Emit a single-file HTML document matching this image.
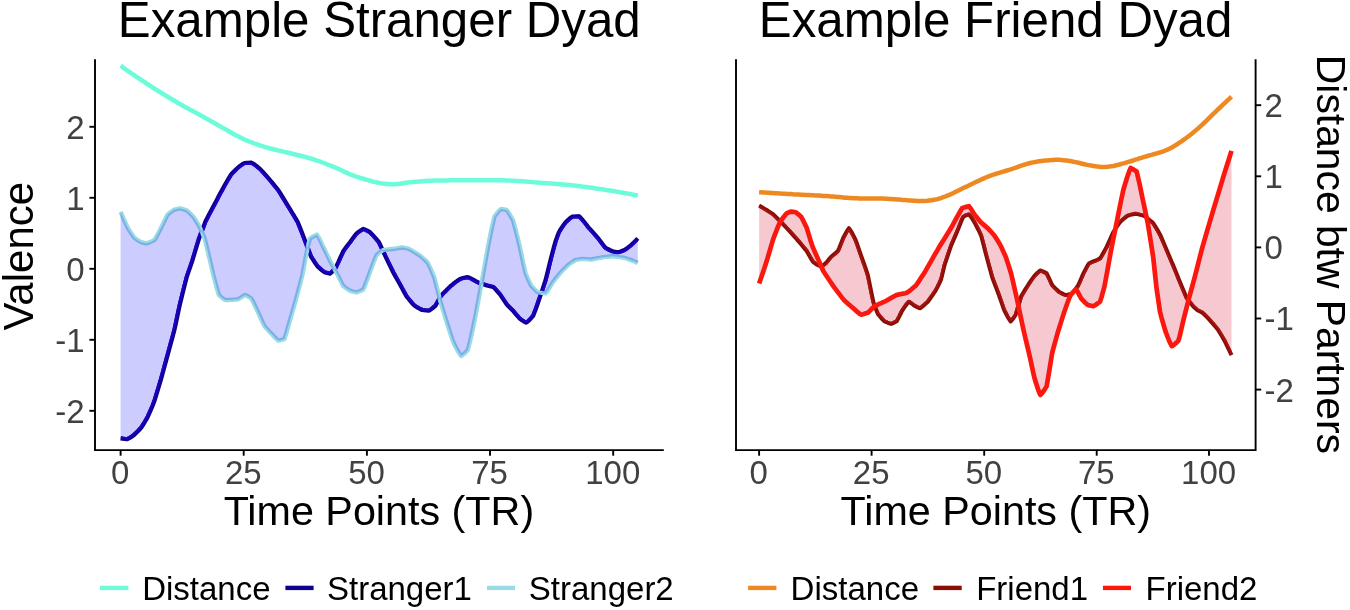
<!DOCTYPE html>
<html lang="en"><head><meta charset="utf-8"><title>Example Stranger Dyad / Example Friend Dyad</title>
<style>html,body{margin:0;padding:0;background:#fff}body{width:1350px;height:610px;overflow:hidden}svg{display:block;will-change:transform;transform:translateZ(0)}text{font-family:"Liberation Sans", Arial, Helvetica, sans-serif}.title{font-size:49.25px;fill:#000}.axt{font-size:41.3px;fill:#000}.tick{font-size:33px;fill:#414141}.leg{font-size:33px;fill:#000}</style></head><body>
<svg width="1350" height="610" viewBox="0 0 1350 610">
<rect width="1350" height="610" fill="#fff"/>
<g id="left-panel">
<polyline points="120.6,65.7 122.6,67.1 124.6,68.6 126.6,70.0 128.6,71.4 130.6,72.8 132.6,74.2 134.6,75.5 136.6,76.9 138.6,78.2 140.6,79.6 142.6,80.9 144.6,82.2 146.6,83.5 148.6,84.8 150.6,86.1 152.6,87.4 154.5,88.7 156.5,89.9 158.5,91.2 160.5,92.4 162.5,93.6 164.5,94.9 166.5,96.1 168.5,97.3 170.5,98.5 172.5,99.7 174.5,100.8 176.5,102.0 178.5,103.2 180.5,104.3 182.5,105.5 184.5,106.6 186.5,107.7 188.5,108.8 190.5,109.9 192.5,111.0 194.5,112.1 196.5,113.1 198.5,114.2 200.5,115.3 202.5,116.4 204.5,117.5 206.5,118.6 208.5,119.7 210.5,120.9 212.5,122.0 214.5,123.1 216.5,124.2 218.4,125.4 220.4,126.5 222.4,127.6 224.4,128.7 226.4,129.8 228.4,131.0 230.4,132.2 232.4,133.3 234.4,134.5 236.4,135.6 238.4,136.6 240.4,137.6 242.4,138.6 244.4,139.5 246.4,140.3 248.4,141.2 250.4,142.0 252.4,142.7 254.4,143.5 256.4,144.2 258.4,144.9 260.4,145.6 262.4,146.2 264.4,146.8 266.4,147.4 268.4,148.0 270.4,148.5 272.4,149.0 274.4,149.5 276.4,150.0 278.4,150.5 280.4,150.9 282.3,151.4 284.3,151.9 286.3,152.3 288.3,152.8 290.3,153.3 292.3,153.8 294.3,154.3 296.3,154.8 298.3,155.2 300.3,155.7 302.3,156.2 304.3,156.7 306.3,157.3 308.3,157.8 310.3,158.4 312.3,159.0 314.3,159.6 316.3,160.3 318.3,161.0 320.3,161.7 322.3,162.5 324.3,163.2 326.3,164.0 328.3,164.8 330.3,165.5 332.3,166.3 334.3,167.1 336.3,168.0 338.3,168.9 340.3,169.8 342.3,170.8 344.3,171.7 346.3,172.6 348.2,173.5 350.2,174.4 352.2,175.2 354.2,175.9 356.2,176.6 358.2,177.2 360.2,177.8 362.2,178.4 364.2,179.0 366.2,179.6 368.2,180.2 370.2,180.8 372.2,181.3 374.2,181.9 376.2,182.3 378.2,182.7 380.2,183.1 382.2,183.5 384.2,183.7 386.2,183.9 388.2,184.1 390.2,184.3 392.2,184.3 394.2,184.2 396.2,184.1 398.2,183.9 400.2,183.7 402.2,183.4 404.2,183.1 406.2,182.8 408.2,182.5 410.2,182.3 412.1,182.1 414.1,181.9 416.1,181.7 418.1,181.6 420.1,181.4 422.1,181.2 424.1,181.1 426.1,180.9 428.1,180.8 430.1,180.8 432.1,180.7 434.1,180.6 436.1,180.6 438.1,180.5 440.1,180.5 442.1,180.5 444.1,180.4 446.1,180.4 448.1,180.4 450.1,180.3 452.1,180.3 454.1,180.3 456.1,180.3 458.1,180.3 460.1,180.3 462.1,180.2 464.1,180.2 466.1,180.2 468.1,180.2 470.1,180.2 472.1,180.2 474.1,180.2 476.1,180.2 478.0,180.2 480.0,180.2 482.0,180.2 484.0,180.2 486.0,180.2 488.0,180.2 490.0,180.2 492.0,180.2 494.0,180.2 496.0,180.2 498.0,180.2 500.0,180.2 502.0,180.3 504.0,180.3 506.0,180.4 508.0,180.5 510.0,180.6 512.0,180.7 514.0,180.8 516.0,181.0 518.0,181.1 520.0,181.2 522.0,181.3 524.0,181.5 526.0,181.6 528.0,181.8 530.0,182.0 532.0,182.1 534.0,182.3 536.0,182.4 538.0,182.6 540.0,182.7 541.9,182.9 543.9,183.0 545.9,183.2 547.9,183.3 549.9,183.4 551.9,183.6 553.9,183.7 555.9,183.9 557.9,184.0 559.9,184.2 561.9,184.4 563.9,184.5 565.9,184.7 567.9,184.9 569.9,185.1 571.9,185.3 573.9,185.5 575.9,185.7 577.9,186.0 579.9,186.2 581.9,186.5 583.9,186.7 585.9,187.0 587.9,187.3 589.9,187.5 591.9,187.8 593.9,188.1 595.9,188.4 597.9,188.7 599.9,189.0 601.9,189.2 603.9,189.5 605.8,189.9 607.8,190.2 609.8,190.5 611.8,190.8 613.8,191.1 615.8,191.5 617.8,191.8 619.8,192.2 621.8,192.5 623.8,192.9 625.8,193.3 627.8,193.6 629.8,194.0 631.8,194.4 633.8,194.8 635.8,195.2 637.8,195.6" fill="none" stroke="#6CFCD9" stroke-width="4.5" stroke-linejoin="round" stroke-linecap="butt"/>
<clipPath id="ribL"><polygon points="120.6,438.4 122.6,438.7 124.6,438.9 127.3,439.1 128.6,438.5 130.6,437.4 133.3,435.6 134.6,434.4 136.6,432.5 138.6,430.5 141.1,427.8 142.6,425.5 144.6,422.3 146.6,418.9 147.8,416.7 150.6,410.4 152.6,405.7 154.4,401.1 156.5,394.2 158.5,387.6 161.1,378.9 162.5,373.7 164.5,366.4 166.5,359.1 167.8,354.4 170.5,344.4 172.5,337.1 174.4,330.0 176.5,320.2 178.5,310.8 180.0,303.9 182.5,293.7 184.5,285.7 186.7,277.2 188.5,271.8 190.5,266.1 192.2,261.1 194.5,253.5 196.5,246.8 198.9,238.9 200.5,234.6 202.5,229.2 204.5,224.0 205.6,221.1 206.5,219.4 208.5,215.5 210.5,211.8 212.5,208.0 214.4,204.4 216.5,200.6 218.4,196.8 220.4,193.1 222.4,189.4 223.3,187.8 224.4,185.8 226.4,182.3 228.4,178.8 231.1,174.4 232.4,173.0 234.4,171.0 236.4,169.0 238.9,166.7 240.4,165.6 242.4,164.2 244.6,163.0 246.4,162.9 248.4,162.8 250.4,162.7 251.6,162.7 254.4,164.4 256.4,165.9 258.4,167.6 260.0,168.9 262.4,171.4 264.4,173.6 266.4,175.9 268.4,178.1 270.0,180.0 272.4,182.9 274.4,185.3 276.4,187.8 278.9,191.1 280.4,193.4 282.3,196.6 284.3,199.9 286.3,203.2 287.8,205.6 290.3,209.7 292.3,213.0 294.3,216.2 296.3,219.6 297.8,222.2 300.3,228.4 302.3,233.5 304.4,238.9 306.3,244.1 308.3,249.5 311.1,256.7 312.3,258.6 314.3,261.7 316.3,264.6 317.8,266.7 320.3,268.9 322.3,270.6 324.4,272.2 326.3,272.7 328.3,273.3 330.0,273.6 332.3,271.6 334.3,269.4 335.6,267.8 338.3,262.2 340.3,257.7 342.3,253.3 343.3,251.1 344.3,249.8 346.3,247.1 348.2,244.5 350.0,242.2 352.2,239.1 354.2,236.4 356.7,233.3 358.2,232.1 360.2,230.7 362.2,229.4 363.3,228.9 364.2,229.2 366.2,230.1 368.2,231.2 370.0,232.2 372.2,234.4 374.2,236.6 376.2,238.9 378.9,242.2 380.2,244.8 382.2,249.2 384.2,253.6 385.6,256.7 388.2,262.1 390.2,266.2 392.2,270.2 393.3,272.5 394.2,274.1 396.2,277.7 398.2,281.2 400.0,284.5 402.2,288.5 404.2,292.2 406.7,296.7 408.2,298.5 410.2,300.9 412.1,303.2 414.4,305.6 416.1,306.7 418.1,307.9 420.1,309.0 422.2,310.0 424.1,310.2 426.1,310.5 428.9,310.7 430.1,310.0 432.1,308.6 434.1,306.9 435.6,305.6 438.1,301.1 440.1,297.3 441.1,295.6 442.1,294.5 444.1,292.4 446.1,290.4 448.1,288.5 450.1,286.6 451.1,285.6 452.1,284.8 454.1,283.2 456.1,281.6 458.1,280.2 460.0,278.9 462.1,278.3 464.1,277.8 466.1,277.4 467.8,277.1 470.1,278.0 472.1,279.1 474.1,280.2 476.1,281.3 477.8,282.2 480.0,283.1 482.0,283.8 484.0,284.5 485.6,285.1 488.0,285.7 490.0,286.2 492.0,286.7 493.3,287.1 496.0,289.8 498.0,292.1 500.0,294.4 502.0,297.4 504.0,300.4 506.7,304.4 508.0,305.8 510.0,307.8 512.0,309.8 513.3,311.1 516.0,314.3 518.0,316.7 520.0,318.9 522.0,320.3 524.0,321.6 526.2,322.7 528.0,321.3 530.0,319.4 532.0,317.2 533.3,315.6 536.0,308.5 538.0,302.7 538.9,300.0 540.0,296.9 541.9,291.1 543.9,285.1 545.6,280.0 547.9,270.7 549.9,262.5 551.1,257.8 551.9,254.7 553.9,247.1 555.6,241.1 557.9,234.7 558.9,232.2 559.9,230.5 561.9,227.4 563.9,224.5 565.6,222.2 567.9,220.1 569.9,218.3 572.2,216.7 573.9,216.5 575.9,216.4 577.9,216.3 578.9,216.2 579.9,217.0 581.9,219.1 583.9,221.5 585.9,224.0 587.9,226.6 588.9,227.8 589.9,228.9 591.9,231.1 593.9,233.4 595.9,235.6 597.8,237.8 599.9,240.5 601.9,243.2 603.9,245.8 605.6,247.8 607.8,249.0 609.8,250.0 612.2,251.1 613.8,251.5 615.8,251.9 617.8,252.2 619.8,251.7 621.8,251.0 624.4,250.0 625.8,249.1 627.8,247.6 629.8,246.1 631.1,245.1 633.8,242.5 635.8,240.5 637.8,238.4 637.8,262.9 635.8,262.1 633.8,261.2 631.8,260.4 629.8,259.7 627.8,259.0 625.8,258.3 624.4,257.8 621.8,257.4 619.8,257.1 617.8,256.7 615.8,256.5 613.3,256.2 611.8,256.3 609.8,256.5 607.8,256.7 605.8,256.9 603.9,257.1 602.2,257.3 599.9,257.8 597.9,258.2 595.9,258.6 593.9,259.0 591.1,259.5 589.9,259.4 587.9,259.3 585.9,259.1 583.9,259.0 582.2,258.9 579.9,259.2 577.9,259.6 575.6,260.0 573.9,261.0 571.9,262.3 569.9,263.7 568.9,264.4 567.9,265.3 565.9,267.3 563.9,269.3 561.9,271.3 560.0,273.3 557.9,275.9 555.9,278.4 553.9,281.0 552.2,283.3 549.9,287.0 547.9,290.3 545.6,293.3 543.9,293.1 541.9,292.9 540.0,292.6 537.8,292.2 536.0,290.7 534.0,288.7 532.0,286.6 531.1,285.6 530.0,283.3 528.0,279.0 525.6,273.3 524.0,266.4 522.0,257.1 520.0,247.7 518.9,242.8 518.0,239.1 516.0,231.1 513.3,221.1 512.0,218.6 510.0,215.0 508.0,211.7 506.7,210.0 504.0,209.4 502.0,209.0 501.1,208.9 500.0,209.8 498.0,211.9 496.0,214.5 494.4,216.7 492.0,226.9 490.0,236.7 488.9,242.2 488.0,246.9 486.0,258.0 483.3,273.3 482.0,280.3 480.0,291.5 478.9,297.8 478.0,302.3 476.1,312.7 473.3,326.7 472.1,332.3 470.1,341.3 467.8,350.0 466.1,351.9 464.1,353.8 462.1,355.4 461.1,356.0 460.1,354.7 458.1,351.5 456.1,347.7 453.3,342.2 452.1,338.8 450.1,332.7 448.1,326.5 446.7,322.2 444.1,313.7 442.1,307.1 440.0,300.0 438.1,292.4 436.1,284.3 434.4,277.8 432.1,272.2 430.1,267.6 427.8,262.7 426.1,261.0 424.1,259.2 422.1,257.4 420.0,255.6 418.1,254.4 416.1,253.1 414.1,251.9 412.1,250.7 410.2,249.5 408.9,248.9 406.2,248.2 404.2,247.8 402.2,247.5 400.2,247.8 398.2,248.1 396.2,248.4 394.2,248.8 393.3,248.9 392.2,249.0 390.2,249.2 388.2,249.4 386.2,249.6 384.2,249.9 383.3,250.0 382.2,250.7 380.2,252.0 378.2,253.6 376.7,254.9 374.2,260.7 372.2,266.1 370.2,271.5 368.9,275.0 366.2,282.3 364.2,287.4 363.3,289.4 362.2,290.0 360.2,291.0 358.2,291.8 356.7,292.3 354.2,291.8 352.2,291.3 350.0,290.6 348.2,289.6 346.3,288.3 344.3,286.8 343.3,286.1 342.3,284.3 340.3,280.4 338.3,276.3 336.7,273.2 334.3,268.7 332.3,265.0 330.0,260.8 328.3,257.3 326.3,253.1 324.3,249.0 323.3,247.0 322.3,244.9 320.3,240.6 318.3,236.7 316.9,234.6 314.3,235.9 313.3,236.4 312.3,237.0 309.9,238.6 308.3,244.8 306.2,254.6 304.3,264.8 302.4,275.0 300.3,283.2 298.3,290.7 296.0,299.4 294.3,305.3 292.3,312.2 289.6,321.7 288.3,326.1 286.3,333.3 284.4,339.0 282.3,339.7 280.4,340.2 278.4,340.6 276.4,338.9 274.4,336.9 272.2,334.6 270.4,332.7 268.4,330.6 266.4,328.4 264.4,326.1 262.4,321.9 260.4,317.5 257.8,311.7 256.4,308.8 254.4,304.5 252.4,300.5 251.1,298.3 248.4,296.6 246.4,295.5 245.1,295.0 242.4,296.5 240.4,297.9 237.8,299.4 236.4,299.5 234.4,299.6 232.4,299.8 230.4,299.9 228.4,300.0 226.4,300.1 225.6,300.1 224.4,299.5 222.4,298.1 220.4,296.4 218.9,295.0 216.5,287.0 214.5,279.4 213.3,275.0 212.5,271.4 210.5,262.8 208.9,256.0 206.5,245.9 204.4,237.8 202.5,233.3 200.5,228.9 198.9,225.6 196.5,221.6 194.5,218.5 193.3,216.7 192.5,215.9 190.5,213.8 188.5,211.9 186.7,210.4 184.5,209.6 182.5,209.0 180.0,208.4 178.5,208.6 176.5,209.1 174.4,209.6 172.5,210.8 170.5,212.2 167.8,214.4 166.5,216.7 164.5,220.7 162.5,224.9 161.1,227.8 158.5,232.7 156.5,236.5 154.4,240.0 152.6,240.9 150.6,241.9 148.6,242.7 146.7,243.3 144.6,243.0 142.6,242.5 141.1,242.2 138.6,240.7 136.6,239.4 134.4,237.8 132.6,235.3 130.6,232.3 127.8,227.8 126.6,225.3 124.6,220.9 122.6,216.4 120.6,211.8" clip-rule="nonzero"/></clipPath>
<polyline points="120.6,438.4 122.6,438.7 124.6,438.9 127.3,439.1 128.6,438.5 130.6,437.4 133.3,435.6 134.6,434.4 136.6,432.5 138.6,430.5 141.1,427.8 142.6,425.5 144.6,422.3 146.6,418.9 147.8,416.7 150.6,410.4 152.6,405.7 154.4,401.1 156.5,394.2 158.5,387.6 161.1,378.9 162.5,373.7 164.5,366.4 166.5,359.1 167.8,354.4 170.5,344.4 172.5,337.1 174.4,330.0 176.5,320.2 178.5,310.8 180.0,303.9 182.5,293.7 184.5,285.7 186.7,277.2 188.5,271.8 190.5,266.1 192.2,261.1 194.5,253.5 196.5,246.8 198.9,238.9 200.5,234.6 202.5,229.2 204.5,224.0 205.6,221.1 206.5,219.4 208.5,215.5 210.5,211.8 212.5,208.0 214.4,204.4 216.5,200.6 218.4,196.8 220.4,193.1 222.4,189.4 223.3,187.8 224.4,185.8 226.4,182.3 228.4,178.8 231.1,174.4 232.4,173.0 234.4,171.0 236.4,169.0 238.9,166.7 240.4,165.6 242.4,164.2 244.6,163.0 246.4,162.9 248.4,162.8 250.4,162.7 251.6,162.7 254.4,164.4 256.4,165.9 258.4,167.6 260.0,168.9 262.4,171.4 264.4,173.6 266.4,175.9 268.4,178.1 270.0,180.0 272.4,182.9 274.4,185.3 276.4,187.8 278.9,191.1 280.4,193.4 282.3,196.6 284.3,199.9 286.3,203.2 287.8,205.6 290.3,209.7 292.3,213.0 294.3,216.2 296.3,219.6 297.8,222.2 300.3,228.4 302.3,233.5 304.4,238.9 306.3,244.1 308.3,249.5 311.1,256.7 312.3,258.6 314.3,261.7 316.3,264.6 317.8,266.7 320.3,268.9 322.3,270.6 324.4,272.2 326.3,272.7 328.3,273.3 330.0,273.6 332.3,271.6 334.3,269.4 335.6,267.8 338.3,262.2 340.3,257.7 342.3,253.3 343.3,251.1 344.3,249.8 346.3,247.1 348.2,244.5 350.0,242.2 352.2,239.1 354.2,236.4 356.7,233.3 358.2,232.1 360.2,230.7 362.2,229.4 363.3,228.9 364.2,229.2 366.2,230.1 368.2,231.2 370.0,232.2 372.2,234.4 374.2,236.6 376.2,238.9 378.9,242.2 380.2,244.8 382.2,249.2 384.2,253.6 385.6,256.7 388.2,262.1 390.2,266.2 392.2,270.2 393.3,272.5 394.2,274.1 396.2,277.7 398.2,281.2 400.0,284.5 402.2,288.5 404.2,292.2 406.7,296.7 408.2,298.5 410.2,300.9 412.1,303.2 414.4,305.6 416.1,306.7 418.1,307.9 420.1,309.0 422.2,310.0 424.1,310.2 426.1,310.5 428.9,310.7 430.1,310.0 432.1,308.6 434.1,306.9 435.6,305.6 438.1,301.1 440.1,297.3 441.1,295.6 442.1,294.5 444.1,292.4 446.1,290.4 448.1,288.5 450.1,286.6 451.1,285.6 452.1,284.8 454.1,283.2 456.1,281.6 458.1,280.2 460.0,278.9 462.1,278.3 464.1,277.8 466.1,277.4 467.8,277.1 470.1,278.0 472.1,279.1 474.1,280.2 476.1,281.3 477.8,282.2 480.0,283.1 482.0,283.8 484.0,284.5 485.6,285.1 488.0,285.7 490.0,286.2 492.0,286.7 493.3,287.1 496.0,289.8 498.0,292.1 500.0,294.4 502.0,297.4 504.0,300.4 506.7,304.4 508.0,305.8 510.0,307.8 512.0,309.8 513.3,311.1 516.0,314.3 518.0,316.7 520.0,318.9 522.0,320.3 524.0,321.6 526.2,322.7 528.0,321.3 530.0,319.4 532.0,317.2 533.3,315.6 536.0,308.5 538.0,302.7 538.9,300.0 540.0,296.9 541.9,291.1 543.9,285.1 545.6,280.0 547.9,270.7 549.9,262.5 551.1,257.8 551.9,254.7 553.9,247.1 555.6,241.1 557.9,234.7 558.9,232.2 559.9,230.5 561.9,227.4 563.9,224.5 565.6,222.2 567.9,220.1 569.9,218.3 572.2,216.7 573.9,216.5 575.9,216.4 577.9,216.3 578.9,216.2 579.9,217.0 581.9,219.1 583.9,221.5 585.9,224.0 587.9,226.6 588.9,227.8 589.9,228.9 591.9,231.1 593.9,233.4 595.9,235.6 597.8,237.8 599.9,240.5 601.9,243.2 603.9,245.8 605.6,247.8 607.8,249.0 609.8,250.0 612.2,251.1 613.8,251.5 615.8,251.9 617.8,252.2 619.8,251.7 621.8,251.0 624.4,250.0 625.8,249.1 627.8,247.6 629.8,246.1 631.1,245.1 633.8,242.5 635.8,240.5 637.8,238.4" fill="none" stroke="#10008E" stroke-width="4.2" stroke-linejoin="round" stroke-linecap="butt"/>
<g clip-path="url(#ribL)"><polyline points="120.6,438.4 122.6,438.7 124.6,438.9 127.3,439.1 128.6,438.5 130.6,437.4 133.3,435.6 134.6,434.4 136.6,432.5 138.6,430.5 141.1,427.8 142.6,425.5 144.6,422.3 146.6,418.9 147.8,416.7 150.6,410.4 152.6,405.7 154.4,401.1 156.5,394.2 158.5,387.6 161.1,378.9 162.5,373.7 164.5,366.4 166.5,359.1 167.8,354.4 170.5,344.4 172.5,337.1 174.4,330.0 176.5,320.2 178.5,310.8 180.0,303.9 182.5,293.7 184.5,285.7 186.7,277.2 188.5,271.8 190.5,266.1 192.2,261.1 194.5,253.5 196.5,246.8 198.9,238.9 200.5,234.6 202.5,229.2 204.5,224.0 205.6,221.1 206.5,219.4 208.5,215.5 210.5,211.8 212.5,208.0 214.4,204.4 216.5,200.6 218.4,196.8 220.4,193.1 222.4,189.4 223.3,187.8 224.4,185.8 226.4,182.3 228.4,178.8 231.1,174.4 232.4,173.0 234.4,171.0 236.4,169.0 238.9,166.7 240.4,165.6 242.4,164.2 244.6,163.0 246.4,162.9 248.4,162.8 250.4,162.7 251.6,162.7 254.4,164.4 256.4,165.9 258.4,167.6 260.0,168.9 262.4,171.4 264.4,173.6 266.4,175.9 268.4,178.1 270.0,180.0 272.4,182.9 274.4,185.3 276.4,187.8 278.9,191.1 280.4,193.4 282.3,196.6 284.3,199.9 286.3,203.2 287.8,205.6 290.3,209.7 292.3,213.0 294.3,216.2 296.3,219.6 297.8,222.2 300.3,228.4 302.3,233.5 304.4,238.9 306.3,244.1 308.3,249.5 311.1,256.7 312.3,258.6 314.3,261.7 316.3,264.6 317.8,266.7 320.3,268.9 322.3,270.6 324.4,272.2 326.3,272.7 328.3,273.3 330.0,273.6 332.3,271.6 334.3,269.4 335.6,267.8 338.3,262.2 340.3,257.7 342.3,253.3 343.3,251.1 344.3,249.8 346.3,247.1 348.2,244.5 350.0,242.2 352.2,239.1 354.2,236.4 356.7,233.3 358.2,232.1 360.2,230.7 362.2,229.4 363.3,228.9 364.2,229.2 366.2,230.1 368.2,231.2 370.0,232.2 372.2,234.4 374.2,236.6 376.2,238.9 378.9,242.2 380.2,244.8 382.2,249.2 384.2,253.6 385.6,256.7 388.2,262.1 390.2,266.2 392.2,270.2 393.3,272.5 394.2,274.1 396.2,277.7 398.2,281.2 400.0,284.5 402.2,288.5 404.2,292.2 406.7,296.7 408.2,298.5 410.2,300.9 412.1,303.2 414.4,305.6 416.1,306.7 418.1,307.9 420.1,309.0 422.2,310.0 424.1,310.2 426.1,310.5 428.9,310.7 430.1,310.0 432.1,308.6 434.1,306.9 435.6,305.6 438.1,301.1 440.1,297.3 441.1,295.6 442.1,294.5 444.1,292.4 446.1,290.4 448.1,288.5 450.1,286.6 451.1,285.6 452.1,284.8 454.1,283.2 456.1,281.6 458.1,280.2 460.0,278.9 462.1,278.3 464.1,277.8 466.1,277.4 467.8,277.1 470.1,278.0 472.1,279.1 474.1,280.2 476.1,281.3 477.8,282.2 480.0,283.1 482.0,283.8 484.0,284.5 485.6,285.1 488.0,285.7 490.0,286.2 492.0,286.7 493.3,287.1 496.0,289.8 498.0,292.1 500.0,294.4 502.0,297.4 504.0,300.4 506.7,304.4 508.0,305.8 510.0,307.8 512.0,309.8 513.3,311.1 516.0,314.3 518.0,316.7 520.0,318.9 522.0,320.3 524.0,321.6 526.2,322.7 528.0,321.3 530.0,319.4 532.0,317.2 533.3,315.6 536.0,308.5 538.0,302.7 538.9,300.0 540.0,296.9 541.9,291.1 543.9,285.1 545.6,280.0 547.9,270.7 549.9,262.5 551.1,257.8 551.9,254.7 553.9,247.1 555.6,241.1 557.9,234.7 558.9,232.2 559.9,230.5 561.9,227.4 563.9,224.5 565.6,222.2 567.9,220.1 569.9,218.3 572.2,216.7 573.9,216.5 575.9,216.4 577.9,216.3 578.9,216.2 579.9,217.0 581.9,219.1 583.9,221.5 585.9,224.0 587.9,226.6 588.9,227.8 589.9,228.9 591.9,231.1 593.9,233.4 595.9,235.6 597.8,237.8 599.9,240.5 601.9,243.2 603.9,245.8 605.6,247.8 607.8,249.0 609.8,250.0 612.2,251.1 613.8,251.5 615.8,251.9 617.8,252.2 619.8,251.7 621.8,251.0 624.4,250.0 625.8,249.1 627.8,247.6 629.8,246.1 631.1,245.1 633.8,242.5 635.8,240.5 637.8,238.4" fill="none" stroke="#2300B8" stroke-width="4.2" stroke-linejoin="round" stroke-linecap="butt"/></g>
<polyline points="120.6,211.8 122.6,216.4 124.6,220.9 126.6,225.3 127.8,227.8 130.6,232.3 132.6,235.3 134.4,237.8 136.6,239.4 138.6,240.7 141.1,242.2 142.6,242.5 144.6,243.0 146.7,243.3 148.6,242.7 150.6,241.9 152.6,240.9 154.4,240.0 156.5,236.5 158.5,232.7 161.1,227.8 162.5,224.9 164.5,220.7 166.5,216.7 167.8,214.4 170.5,212.2 172.5,210.8 174.4,209.6 176.5,209.1 178.5,208.6 180.0,208.4 182.5,209.0 184.5,209.6 186.7,210.4 188.5,211.9 190.5,213.8 192.5,215.9 193.3,216.7 194.5,218.5 196.5,221.6 198.9,225.6 200.5,228.9 202.5,233.3 204.4,237.8 206.5,245.9 208.9,256.0 210.5,262.8 212.5,271.4 213.3,275.0 214.5,279.4 216.5,287.0 218.9,295.0 220.4,296.4 222.4,298.1 224.4,299.5 225.6,300.1 226.4,300.1 228.4,300.0 230.4,299.9 232.4,299.8 234.4,299.6 236.4,299.5 237.8,299.4 240.4,297.9 242.4,296.5 245.1,295.0 246.4,295.5 248.4,296.6 251.1,298.3 252.4,300.5 254.4,304.5 256.4,308.8 257.8,311.7 260.4,317.5 262.4,321.9 264.4,326.1 266.4,328.4 268.4,330.6 270.4,332.7 272.2,334.6 274.4,336.9 276.4,338.9 278.4,340.6 280.4,340.2 282.3,339.7 284.4,339.0 286.3,333.3 288.3,326.1 289.6,321.7 292.3,312.2 294.3,305.3 296.0,299.4 298.3,290.7 300.3,283.2 302.4,275.0 304.3,264.8 306.2,254.6 308.3,244.8 309.9,238.6 312.3,237.0 313.3,236.4 314.3,235.9 316.9,234.6 318.3,236.7 320.3,240.6 322.3,244.9 323.3,247.0 324.3,249.0 326.3,253.1 328.3,257.3 330.0,260.8 332.3,265.0 334.3,268.7 336.7,273.2 338.3,276.3 340.3,280.4 342.3,284.3 343.3,286.1 344.3,286.8 346.3,288.3 348.2,289.6 350.0,290.6 352.2,291.3 354.2,291.8 356.7,292.3 358.2,291.8 360.2,291.0 362.2,290.0 363.3,289.4 364.2,287.4 366.2,282.3 368.9,275.0 370.2,271.5 372.2,266.1 374.2,260.7 376.7,254.9 378.2,253.6 380.2,252.0 382.2,250.7 383.3,250.0 384.2,249.9 386.2,249.6 388.2,249.4 390.2,249.2 392.2,249.0 393.3,248.9 394.2,248.8 396.2,248.4 398.2,248.1 400.2,247.8 402.2,247.5 404.2,247.8 406.2,248.2 408.9,248.9 410.2,249.5 412.1,250.7 414.1,251.9 416.1,253.1 418.1,254.4 420.0,255.6 422.1,257.4 424.1,259.2 426.1,261.0 427.8,262.7 430.1,267.6 432.1,272.2 434.4,277.8 436.1,284.3 438.1,292.4 440.0,300.0 442.1,307.1 444.1,313.7 446.7,322.2 448.1,326.5 450.1,332.7 452.1,338.8 453.3,342.2 456.1,347.7 458.1,351.5 460.1,354.7 461.1,356.0 462.1,355.4 464.1,353.8 466.1,351.9 467.8,350.0 470.1,341.3 472.1,332.3 473.3,326.7 476.1,312.7 478.0,302.3 478.9,297.8 480.0,291.5 482.0,280.3 483.3,273.3 486.0,258.0 488.0,246.9 488.9,242.2 490.0,236.7 492.0,226.9 494.4,216.7 496.0,214.5 498.0,211.9 500.0,209.8 501.1,208.9 502.0,209.0 504.0,209.4 506.7,210.0 508.0,211.7 510.0,215.0 512.0,218.6 513.3,221.1 516.0,231.1 518.0,239.1 518.9,242.8 520.0,247.7 522.0,257.1 524.0,266.4 525.6,273.3 528.0,279.0 530.0,283.3 531.1,285.6 532.0,286.6 534.0,288.7 536.0,290.7 537.8,292.2 540.0,292.6 541.9,292.9 543.9,293.1 545.6,293.3 547.9,290.3 549.9,287.0 552.2,283.3 553.9,281.0 555.9,278.4 557.9,275.9 560.0,273.3 561.9,271.3 563.9,269.3 565.9,267.3 567.9,265.3 568.9,264.4 569.9,263.7 571.9,262.3 573.9,261.0 575.6,260.0 577.9,259.6 579.9,259.2 582.2,258.9 583.9,259.0 585.9,259.1 587.9,259.3 589.9,259.4 591.1,259.5 593.9,259.0 595.9,258.6 597.9,258.2 599.9,257.8 602.2,257.3 603.9,257.1 605.8,256.9 607.8,256.7 609.8,256.5 611.8,256.3 613.3,256.2 615.8,256.5 617.8,256.7 619.8,257.1 621.8,257.4 624.4,257.8 625.8,258.3 627.8,259.0 629.8,259.7 631.8,260.4 633.8,261.2 635.8,262.1 637.8,262.9" fill="none" stroke="#99DBE3" stroke-width="4.4" stroke-linejoin="round" stroke-linecap="butt"/>
<polygon points="120.6,438.4 122.6,438.7 124.6,438.9 127.3,439.1 128.6,438.5 130.6,437.4 133.3,435.6 134.6,434.4 136.6,432.5 138.6,430.5 141.1,427.8 142.6,425.5 144.6,422.3 146.6,418.9 147.8,416.7 150.6,410.4 152.6,405.7 154.4,401.1 156.5,394.2 158.5,387.6 161.1,378.9 162.5,373.7 164.5,366.4 166.5,359.1 167.8,354.4 170.5,344.4 172.5,337.1 174.4,330.0 176.5,320.2 178.5,310.8 180.0,303.9 182.5,293.7 184.5,285.7 186.7,277.2 188.5,271.8 190.5,266.1 192.2,261.1 194.5,253.5 196.5,246.8 198.9,238.9 200.5,234.6 202.5,229.2 204.5,224.0 205.6,221.1 206.5,219.4 208.5,215.5 210.5,211.8 212.5,208.0 214.4,204.4 216.5,200.6 218.4,196.8 220.4,193.1 222.4,189.4 223.3,187.8 224.4,185.8 226.4,182.3 228.4,178.8 231.1,174.4 232.4,173.0 234.4,171.0 236.4,169.0 238.9,166.7 240.4,165.6 242.4,164.2 244.6,163.0 246.4,162.9 248.4,162.8 250.4,162.7 251.6,162.7 254.4,164.4 256.4,165.9 258.4,167.6 260.0,168.9 262.4,171.4 264.4,173.6 266.4,175.9 268.4,178.1 270.0,180.0 272.4,182.9 274.4,185.3 276.4,187.8 278.9,191.1 280.4,193.4 282.3,196.6 284.3,199.9 286.3,203.2 287.8,205.6 290.3,209.7 292.3,213.0 294.3,216.2 296.3,219.6 297.8,222.2 300.3,228.4 302.3,233.5 304.4,238.9 306.3,244.1 308.3,249.5 311.1,256.7 312.3,258.6 314.3,261.7 316.3,264.6 317.8,266.7 320.3,268.9 322.3,270.6 324.4,272.2 326.3,272.7 328.3,273.3 330.0,273.6 332.3,271.6 334.3,269.4 335.6,267.8 338.3,262.2 340.3,257.7 342.3,253.3 343.3,251.1 344.3,249.8 346.3,247.1 348.2,244.5 350.0,242.2 352.2,239.1 354.2,236.4 356.7,233.3 358.2,232.1 360.2,230.7 362.2,229.4 363.3,228.9 364.2,229.2 366.2,230.1 368.2,231.2 370.0,232.2 372.2,234.4 374.2,236.6 376.2,238.9 378.9,242.2 380.2,244.8 382.2,249.2 384.2,253.6 385.6,256.7 388.2,262.1 390.2,266.2 392.2,270.2 393.3,272.5 394.2,274.1 396.2,277.7 398.2,281.2 400.0,284.5 402.2,288.5 404.2,292.2 406.7,296.7 408.2,298.5 410.2,300.9 412.1,303.2 414.4,305.6 416.1,306.7 418.1,307.9 420.1,309.0 422.2,310.0 424.1,310.2 426.1,310.5 428.9,310.7 430.1,310.0 432.1,308.6 434.1,306.9 435.6,305.6 438.1,301.1 440.1,297.3 441.1,295.6 442.1,294.5 444.1,292.4 446.1,290.4 448.1,288.5 450.1,286.6 451.1,285.6 452.1,284.8 454.1,283.2 456.1,281.6 458.1,280.2 460.0,278.9 462.1,278.3 464.1,277.8 466.1,277.4 467.8,277.1 470.1,278.0 472.1,279.1 474.1,280.2 476.1,281.3 477.8,282.2 480.0,283.1 482.0,283.8 484.0,284.5 485.6,285.1 488.0,285.7 490.0,286.2 492.0,286.7 493.3,287.1 496.0,289.8 498.0,292.1 500.0,294.4 502.0,297.4 504.0,300.4 506.7,304.4 508.0,305.8 510.0,307.8 512.0,309.8 513.3,311.1 516.0,314.3 518.0,316.7 520.0,318.9 522.0,320.3 524.0,321.6 526.2,322.7 528.0,321.3 530.0,319.4 532.0,317.2 533.3,315.6 536.0,308.5 538.0,302.7 538.9,300.0 540.0,296.9 541.9,291.1 543.9,285.1 545.6,280.0 547.9,270.7 549.9,262.5 551.1,257.8 551.9,254.7 553.9,247.1 555.6,241.1 557.9,234.7 558.9,232.2 559.9,230.5 561.9,227.4 563.9,224.5 565.6,222.2 567.9,220.1 569.9,218.3 572.2,216.7 573.9,216.5 575.9,216.4 577.9,216.3 578.9,216.2 579.9,217.0 581.9,219.1 583.9,221.5 585.9,224.0 587.9,226.6 588.9,227.8 589.9,228.9 591.9,231.1 593.9,233.4 595.9,235.6 597.8,237.8 599.9,240.5 601.9,243.2 603.9,245.8 605.6,247.8 607.8,249.0 609.8,250.0 612.2,251.1 613.8,251.5 615.8,251.9 617.8,252.2 619.8,251.7 621.8,251.0 624.4,250.0 625.8,249.1 627.8,247.6 629.8,246.1 631.1,245.1 633.8,242.5 635.8,240.5 637.8,238.4 637.8,262.9 635.8,262.1 633.8,261.2 631.8,260.4 629.8,259.7 627.8,259.0 625.8,258.3 624.4,257.8 621.8,257.4 619.8,257.1 617.8,256.7 615.8,256.5 613.3,256.2 611.8,256.3 609.8,256.5 607.8,256.7 605.8,256.9 603.9,257.1 602.2,257.3 599.9,257.8 597.9,258.2 595.9,258.6 593.9,259.0 591.1,259.5 589.9,259.4 587.9,259.3 585.9,259.1 583.9,259.0 582.2,258.9 579.9,259.2 577.9,259.6 575.6,260.0 573.9,261.0 571.9,262.3 569.9,263.7 568.9,264.4 567.9,265.3 565.9,267.3 563.9,269.3 561.9,271.3 560.0,273.3 557.9,275.9 555.9,278.4 553.9,281.0 552.2,283.3 549.9,287.0 547.9,290.3 545.6,293.3 543.9,293.1 541.9,292.9 540.0,292.6 537.8,292.2 536.0,290.7 534.0,288.7 532.0,286.6 531.1,285.6 530.0,283.3 528.0,279.0 525.6,273.3 524.0,266.4 522.0,257.1 520.0,247.7 518.9,242.8 518.0,239.1 516.0,231.1 513.3,221.1 512.0,218.6 510.0,215.0 508.0,211.7 506.7,210.0 504.0,209.4 502.0,209.0 501.1,208.9 500.0,209.8 498.0,211.9 496.0,214.5 494.4,216.7 492.0,226.9 490.0,236.7 488.9,242.2 488.0,246.9 486.0,258.0 483.3,273.3 482.0,280.3 480.0,291.5 478.9,297.8 478.0,302.3 476.1,312.7 473.3,326.7 472.1,332.3 470.1,341.3 467.8,350.0 466.1,351.9 464.1,353.8 462.1,355.4 461.1,356.0 460.1,354.7 458.1,351.5 456.1,347.7 453.3,342.2 452.1,338.8 450.1,332.7 448.1,326.5 446.7,322.2 444.1,313.7 442.1,307.1 440.0,300.0 438.1,292.4 436.1,284.3 434.4,277.8 432.1,272.2 430.1,267.6 427.8,262.7 426.1,261.0 424.1,259.2 422.1,257.4 420.0,255.6 418.1,254.4 416.1,253.1 414.1,251.9 412.1,250.7 410.2,249.5 408.9,248.9 406.2,248.2 404.2,247.8 402.2,247.5 400.2,247.8 398.2,248.1 396.2,248.4 394.2,248.8 393.3,248.9 392.2,249.0 390.2,249.2 388.2,249.4 386.2,249.6 384.2,249.9 383.3,250.0 382.2,250.7 380.2,252.0 378.2,253.6 376.7,254.9 374.2,260.7 372.2,266.1 370.2,271.5 368.9,275.0 366.2,282.3 364.2,287.4 363.3,289.4 362.2,290.0 360.2,291.0 358.2,291.8 356.7,292.3 354.2,291.8 352.2,291.3 350.0,290.6 348.2,289.6 346.3,288.3 344.3,286.8 343.3,286.1 342.3,284.3 340.3,280.4 338.3,276.3 336.7,273.2 334.3,268.7 332.3,265.0 330.0,260.8 328.3,257.3 326.3,253.1 324.3,249.0 323.3,247.0 322.3,244.9 320.3,240.6 318.3,236.7 316.9,234.6 314.3,235.9 313.3,236.4 312.3,237.0 309.9,238.6 308.3,244.8 306.2,254.6 304.3,264.8 302.4,275.0 300.3,283.2 298.3,290.7 296.0,299.4 294.3,305.3 292.3,312.2 289.6,321.7 288.3,326.1 286.3,333.3 284.4,339.0 282.3,339.7 280.4,340.2 278.4,340.6 276.4,338.9 274.4,336.9 272.2,334.6 270.4,332.7 268.4,330.6 266.4,328.4 264.4,326.1 262.4,321.9 260.4,317.5 257.8,311.7 256.4,308.8 254.4,304.5 252.4,300.5 251.1,298.3 248.4,296.6 246.4,295.5 245.1,295.0 242.4,296.5 240.4,297.9 237.8,299.4 236.4,299.5 234.4,299.6 232.4,299.8 230.4,299.9 228.4,300.0 226.4,300.1 225.6,300.1 224.4,299.5 222.4,298.1 220.4,296.4 218.9,295.0 216.5,287.0 214.5,279.4 213.3,275.0 212.5,271.4 210.5,262.8 208.9,256.0 206.5,245.9 204.4,237.8 202.5,233.3 200.5,228.9 198.9,225.6 196.5,221.6 194.5,218.5 193.3,216.7 192.5,215.9 190.5,213.8 188.5,211.9 186.7,210.4 184.5,209.6 182.5,209.0 180.0,208.4 178.5,208.6 176.5,209.1 174.4,209.6 172.5,210.8 170.5,212.2 167.8,214.4 166.5,216.7 164.5,220.7 162.5,224.9 161.1,227.8 158.5,232.7 156.5,236.5 154.4,240.0 152.6,240.9 150.6,241.9 148.6,242.7 146.7,243.3 144.6,243.0 142.6,242.5 141.1,242.2 138.6,240.7 136.6,239.4 134.4,237.8 132.6,235.3 130.6,232.3 127.8,227.8 126.6,225.3 124.6,220.9 122.6,216.4 120.6,211.8" fill="rgba(0,0,255,0.2)" stroke="none" fill-rule="nonzero"/>
<path d="M95.0,59.3V450.1H663.8" fill="none" stroke="#000" stroke-width="1.9" stroke-linecap="butt" stroke-linejoin="miter"/>
<line x1="89.4" y1="126.8" x2="95.0" y2="126.8" stroke="#000" stroke-width="1.9"/>
<text class="tick" x="84.6" y="138.7" text-anchor="end">2</text>
<line x1="89.4" y1="197.8" x2="95.0" y2="197.8" stroke="#000" stroke-width="1.9"/>
<text class="tick" x="84.6" y="209.7" text-anchor="end">1</text>
<line x1="89.4" y1="268.8" x2="95.0" y2="268.8" stroke="#000" stroke-width="1.9"/>
<text class="tick" x="84.6" y="280.7" text-anchor="end">0</text>
<line x1="89.4" y1="339.8" x2="95.0" y2="339.8" stroke="#000" stroke-width="1.9"/>
<text class="tick" x="84.6" y="351.7" text-anchor="end">-1</text>
<line x1="89.4" y1="410.8" x2="95.0" y2="410.8" stroke="#000" stroke-width="1.9"/>
<text class="tick" x="84.6" y="422.7" text-anchor="end">-2</text>
<line x1="120.6" y1="450.1" x2="120.6" y2="455.70000000000005" stroke="#000" stroke-width="1.9"/>
<text class="tick" x="120.2" y="484.4" text-anchor="middle">0</text>
<line x1="243.7" y1="450.1" x2="243.7" y2="455.70000000000005" stroke="#000" stroke-width="1.9"/>
<text class="tick" x="243.3" y="484.4" text-anchor="middle">25</text>
<line x1="366.9" y1="450.1" x2="366.9" y2="455.70000000000005" stroke="#000" stroke-width="1.9"/>
<text class="tick" x="366.5" y="484.4" text-anchor="middle">50</text>
<line x1="490.0" y1="450.1" x2="490.0" y2="455.70000000000005" stroke="#000" stroke-width="1.9"/>
<text class="tick" x="489.6" y="484.4" text-anchor="middle">75</text>
<line x1="613.2" y1="450.1" x2="613.2" y2="455.70000000000005" stroke="#000" stroke-width="1.9"/>
<text class="tick" x="612.8" y="484.4" text-anchor="middle">100</text>
<text class="title" x="379.3" y="37.4" text-anchor="middle">Example Stranger Dyad</text>
<text class="axt" x="378.9" y="525.4" text-anchor="middle">Time Points (TR)</text>
<text class="axt" style="font-size:42px" transform="translate(33.3,256.2) rotate(-90)" text-anchor="middle">Valence</text>
<line x1="100.0" y1="587.9" x2="128.4" y2="587.9" stroke="#6CFCD9" stroke-width="4.4"/>
<text class="leg" x="142.2" y="600" text-anchor="start">Distance</text>
<line x1="285.4" y1="587.9" x2="313.6" y2="587.9" stroke="#10008E" stroke-width="4.4"/>
<text class="leg" x="327.0" y="600" text-anchor="start">Stranger1</text>
<line x1="486.9" y1="587.9" x2="515.0" y2="587.9" stroke="#99DBE3" stroke-width="4.4"/>
<text class="leg" x="528.8" y="600" text-anchor="start">Stranger2</text>
</g>
<g id="right-panel">
<polyline points="759.1,192.2 761.1,192.3 763.1,192.5 765.1,192.6 767.1,192.7 769.1,192.8 771.1,193.0 773.1,193.1 775.1,193.2 777.1,193.3 779.1,193.4 781.1,193.6 783.1,193.7 785.1,193.8 787.1,193.9 789.1,194.0 791.1,194.1 793.1,194.3 795.1,194.4 797.1,194.5 799.1,194.6 801.1,194.7 803.1,194.8 805.1,194.9 807.1,195.0 809.1,195.1 811.1,195.2 813.1,195.3 815.1,195.4 817.1,195.5 819.2,195.6 821.2,195.7 823.2,195.9 825.2,196.0 827.2,196.1 829.2,196.2 831.2,196.4 833.2,196.5 835.2,196.7 837.2,196.9 839.2,197.1 841.2,197.3 843.2,197.5 845.2,197.7 847.2,197.8 849.2,198.0 851.2,198.1 853.2,198.2 855.2,198.3 857.2,198.3 859.2,198.4 861.2,198.4 863.2,198.4 865.2,198.4 867.2,198.4 869.2,198.5 871.2,198.5 873.2,198.5 875.2,198.5 877.2,198.5 879.2,198.5 881.2,198.6 883.2,198.6 885.2,198.7 887.2,198.8 889.2,198.9 891.2,199.0 893.2,199.2 895.2,199.3 897.2,199.5 899.2,199.6 901.2,199.8 903.2,199.9 905.2,200.1 907.2,200.2 909.2,200.4 911.2,200.5 913.2,200.7 915.2,200.8 917.2,201.0 919.2,201.0 921.2,201.1 923.2,201.1 925.2,201.0 927.2,200.8 929.2,200.5 931.2,200.2 933.2,199.9 935.2,199.6 937.3,199.2 939.3,198.6 941.3,198.0 943.3,197.2 945.3,196.5 947.3,195.7 949.3,194.9 951.3,194.0 953.3,193.1 955.3,192.1 957.3,191.1 959.3,190.0 961.3,189.1 963.3,188.1 965.3,187.1 967.3,186.2 969.3,185.2 971.3,184.2 973.3,183.3 975.3,182.3 977.3,181.4 979.3,180.5 981.3,179.5 983.3,178.6 985.3,177.7 987.3,176.8 989.3,176.1 991.3,175.3 993.3,174.7 995.3,174.0 997.3,173.4 999.3,172.8 1001.3,172.2 1003.3,171.6 1005.3,171.0 1007.3,170.4 1009.3,169.8 1011.3,169.2 1013.3,168.5 1015.3,167.8 1017.3,167.1 1019.3,166.4 1021.3,165.7 1023.3,165.0 1025.3,164.4 1027.3,163.8 1029.3,163.3 1031.3,162.8 1033.3,162.4 1035.3,162.0 1037.3,161.6 1039.3,161.3 1041.3,161.0 1043.3,160.8 1045.3,160.6 1047.3,160.4 1049.3,160.2 1051.3,160.1 1053.3,159.9 1055.4,159.8 1057.4,159.8 1059.4,159.8 1061.4,160.0 1063.4,160.2 1065.4,160.4 1067.4,160.6 1069.4,160.9 1071.4,161.3 1073.4,161.7 1075.4,162.1 1077.4,162.5 1079.4,163.0 1081.4,163.5 1083.4,164.0 1085.4,164.5 1087.4,164.9 1089.4,165.3 1091.4,165.6 1093.4,165.9 1095.4,166.2 1097.4,166.5 1099.4,166.7 1101.4,166.9 1103.4,167.0 1105.4,167.0 1107.4,166.8 1109.4,166.6 1111.4,166.3 1113.4,166.0 1115.4,165.5 1117.4,165.0 1119.4,164.5 1121.4,163.9 1123.4,163.4 1125.4,162.8 1127.4,162.2 1129.4,161.6 1131.4,161.0 1133.4,160.4 1135.4,159.7 1137.4,159.1 1139.4,158.4 1141.4,157.8 1143.4,157.2 1145.4,156.6 1147.4,156.0 1149.4,155.4 1151.4,154.9 1153.4,154.3 1155.4,153.8 1157.4,153.2 1159.4,152.6 1161.4,152.0 1163.4,151.3 1165.4,150.5 1167.4,149.7 1169.4,148.7 1171.4,147.7 1173.5,146.5 1175.5,145.3 1177.5,144.0 1179.5,142.6 1181.5,141.3 1183.5,139.9 1185.5,138.5 1187.5,137.0 1189.5,135.5 1191.5,133.9 1193.5,132.3 1195.5,130.6 1197.5,128.9 1199.5,127.2 1201.5,125.4 1203.5,123.5 1205.5,121.6 1207.5,119.7 1209.5,117.7 1211.5,115.7 1213.5,113.7 1215.5,111.8 1217.5,109.9 1219.5,108.0 1221.5,106.1 1223.5,104.2 1225.5,102.3 1227.5,100.4 1229.5,98.6 1231.5,96.7" fill="none" stroke="#EE8921" stroke-width="4.5" stroke-linejoin="round" stroke-linecap="butt"/>
<clipPath id="ribR"><polygon points="759.1,205.6 761.1,206.7 763.1,207.9 765.1,209.1 767.1,210.3 769.1,211.6 771.1,212.9 773.3,214.4 775.1,216.1 777.1,218.1 779.1,220.1 781.1,222.2 783.1,224.3 784.4,225.6 787.1,228.5 789.1,230.7 791.1,232.9 793.1,235.1 795.6,237.8 797.1,239.6 799.1,241.9 801.1,244.3 803.1,246.7 805.1,249.1 806.7,251.1 809.1,255.3 811.1,258.8 813.3,262.2 815.1,263.4 817.1,264.7 819.2,265.8 821.1,266.7 823.2,265.3 825.6,263.3 827.2,261.5 829.2,259.0 831.1,256.7 833.2,255.0 835.2,253.4 837.8,251.1 839.2,248.1 841.2,243.0 843.3,237.8 845.2,234.3 847.2,230.6 848.9,228.2 851.2,231.5 853.2,235.2 855.6,240.0 857.2,244.3 859.2,250.1 861.1,255.6 863.2,261.5 865.2,267.2 867.8,275.0 869.2,281.6 871.2,291.7 873.3,301.7 875.2,307.2 877.8,313.9 879.2,315.6 881.2,318.0 883.2,320.1 884.4,321.2 885.2,321.6 887.2,322.5 889.2,323.3 891.1,323.9 893.2,323.1 895.2,322.0 896.7,321.2 899.2,316.6 901.2,312.5 902.2,310.6 903.2,309.1 905.2,306.2 907.2,303.5 908.9,301.7 911.2,303.2 913.2,304.8 914.4,305.7 915.2,306.1 917.2,307.2 920.0,308.3 921.2,307.5 923.2,305.9 925.2,304.1 927.8,301.7 929.2,299.8 931.2,297.0 933.2,294.1 935.6,290.6 937.3,287.4 939.3,283.4 941.1,279.4 943.3,270.4 944.4,265.6 945.3,262.9 947.3,256.8 949.3,250.9 951.1,245.6 953.3,240.5 955.3,235.9 957.8,230.0 959.3,226.3 961.3,221.1 963.3,216.7 965.3,215.7 967.3,214.9 968.9,214.4 971.3,217.3 973.3,220.5 974.4,222.2 975.3,223.9 977.3,227.7 979.3,231.7 981.1,235.6 983.3,243.8 985.6,253.0 987.3,259.3 989.3,266.8 991.3,274.0 992.2,277.2 993.3,280.2 995.3,285.5 997.3,290.8 998.9,295.0 1001.3,301.9 1003.3,307.7 1004.4,310.6 1005.3,312.3 1007.3,316.2 1009.3,319.6 1010.7,321.4 1013.3,318.4 1015.6,315.0 1017.3,309.5 1019.3,302.4 1021.1,296.6 1023.3,292.7 1025.3,289.4 1027.8,285.5 1029.3,283.2 1031.3,280.2 1033.3,277.4 1034.4,275.9 1035.3,275.0 1037.3,273.0 1039.3,271.2 1040.4,270.5 1041.3,270.8 1043.3,271.6 1045.3,272.6 1046.7,273.3 1049.3,278.8 1051.3,283.3 1052.2,285.0 1053.3,286.3 1055.4,288.4 1057.4,290.3 1058.9,291.7 1061.4,293.1 1063.4,294.1 1065.6,295.0 1067.4,294.7 1069.4,294.3 1071.1,293.9 1073.4,291.6 1075.4,289.2 1077.8,286.0 1079.4,282.6 1081.4,278.0 1083.3,273.6 1085.4,269.6 1087.4,265.9 1088.9,263.5 1091.4,262.2 1093.4,261.4 1095.4,260.6 1097.4,259.7 1100.0,258.4 1101.4,256.3 1103.4,252.8 1105.4,249.1 1106.7,246.7 1109.4,240.8 1111.4,236.3 1113.3,232.2 1115.4,228.9 1117.4,225.9 1120.0,222.2 1121.4,220.9 1123.4,219.1 1125.4,217.4 1127.8,215.6 1129.4,215.2 1131.4,214.6 1133.4,214.2 1135.6,213.8 1137.4,214.1 1139.4,214.6 1141.4,215.1 1143.4,215.7 1144.4,216.0 1145.4,216.7 1147.4,218.2 1149.4,219.9 1151.4,221.6 1153.3,223.3 1155.4,226.6 1157.4,229.9 1160.0,234.4 1161.4,237.6 1163.4,242.3 1165.4,247.0 1166.7,250.0 1169.4,256.5 1171.4,261.2 1173.3,265.6 1175.5,270.9 1177.5,275.9 1178.9,279.5 1181.5,285.7 1183.5,290.6 1185.5,295.3 1186.7,298.0 1189.5,301.7 1191.5,304.3 1193.3,306.5 1195.5,308.5 1197.5,310.2 1199.5,311.2 1201.5,312.2 1202.5,312.8 1203.5,313.7 1205.5,315.7 1207.5,317.7 1208.9,319.2 1211.5,322.1 1213.5,324.4 1215.5,326.7 1217.8,329.5 1219.5,332.2 1221.5,335.5 1223.5,338.9 1224.4,340.5 1225.5,342.7 1227.5,346.8 1229.5,350.9 1231.5,355.2 1231.5,150.9 1229.5,157.2 1227.5,163.5 1225.5,169.8 1224.4,173.3 1223.5,176.3 1221.5,182.9 1219.5,189.5 1217.5,196.1 1215.5,202.7 1213.3,210.0 1211.5,216.1 1209.5,222.9 1207.5,229.7 1205.5,236.5 1203.5,243.4 1202.2,247.8 1199.5,258.4 1197.5,266.3 1195.5,274.1 1194.4,278.3 1193.5,281.7 1191.5,289.0 1188.9,298.3 1187.5,304.0 1185.5,311.9 1183.3,320.6 1181.5,328.5 1179.5,336.9 1178.4,340.6 1177.5,341.6 1175.5,343.5 1173.5,345.1 1171.8,346.1 1169.4,341.5 1167.4,336.5 1165.6,331.7 1163.4,324.4 1161.4,317.3 1160.0,311.7 1156.7,289.4 1155.4,277.8 1153.3,258.0 1151.4,245.7 1149.4,233.2 1147.8,223.3 1145.4,211.8 1143.4,202.4 1142.2,196.7 1139.4,183.2 1136.7,171.7 1135.4,170.7 1133.4,169.4 1130.7,168.0 1129.4,170.9 1127.4,176.5 1125.4,183.0 1123.3,190.0 1121.4,198.9 1119.4,208.8 1117.8,216.7 1115.4,228.6 1113.4,238.5 1111.1,250.0 1109.4,259.3 1107.4,270.5 1105.4,281.4 1104.4,286.5 1103.4,290.3 1101.4,297.5 1100.0,301.7 1097.4,303.7 1095.4,305.0 1093.3,306.1 1091.4,305.8 1089.4,305.4 1087.8,305.0 1085.4,302.9 1083.4,300.8 1081.1,298.3 1079.4,295.2 1077.4,291.4 1076.0,289.4 1073.4,291.9 1071.4,294.3 1070.0,296.1 1067.4,303.0 1065.4,308.7 1064.3,311.7 1063.4,314.6 1061.4,320.9 1059.4,327.3 1058.0,331.7 1055.4,341.2 1053.3,348.6 1052.0,353.9 1049.3,370.6 1046.7,386.1 1045.3,388.4 1043.3,391.5 1041.3,394.0 1040.4,395.0 1039.3,392.7 1037.3,387.1 1035.3,380.8 1034.4,377.8 1033.3,373.1 1031.3,363.7 1030.0,357.5 1027.3,346.1 1025.3,337.7 1023.3,329.0 1021.3,319.7 1019.3,310.2 1016.7,297.8 1015.3,291.7 1013.3,282.9 1011.1,273.5 1009.3,267.8 1007.3,261.6 1005.6,256.5 1003.3,251.4 1001.3,247.1 1000.0,244.4 997.3,240.0 995.3,236.9 994.4,235.6 993.3,234.3 991.3,232.0 989.3,229.8 987.8,228.2 985.3,226.1 983.3,224.4 981.1,222.5 979.3,220.4 977.3,218.0 975.3,215.5 974.4,214.4 973.3,212.7 971.3,209.4 968.9,206.2 967.3,206.6 965.3,207.1 963.3,207.8 962.2,208.2 961.3,209.5 959.3,213.0 957.8,215.6 955.3,220.2 953.3,223.9 951.1,227.8 949.3,230.8 947.3,234.0 945.3,237.2 943.3,240.4 941.3,243.6 940.0,245.6 937.3,250.4 935.2,253.8 933.2,257.3 931.1,261.1 929.2,264.4 927.2,267.9 925.2,271.4 924.4,272.8 923.2,274.6 921.2,277.6 919.2,280.7 917.2,283.6 915.6,285.8 913.2,287.8 911.2,289.5 909.2,291.1 906.7,292.8 905.2,293.2 903.2,293.6 901.2,294.0 899.2,294.4 896.7,295.0 895.2,295.7 893.2,296.8 891.2,297.9 889.2,299.0 887.2,300.2 885.2,301.3 884.4,301.7 883.2,302.2 881.2,303.1 879.2,303.9 877.2,304.8 874.4,306.1 873.2,307.3 871.2,309.4 869.2,311.5 867.8,312.8 865.2,313.6 863.2,314.2 861.1,314.6 859.2,313.4 857.2,311.7 855.2,309.9 853.3,308.3 851.2,306.5 849.2,304.8 847.2,303.1 844.4,300.6 843.2,299.1 841.2,296.6 839.2,293.9 837.2,291.3 835.2,288.6 833.3,286.1 831.2,283.0 829.2,280.0 827.2,277.0 825.2,274.0 823.3,271.0 821.2,266.2 819.2,261.6 817.8,258.5 815.1,252.5 813.1,247.9 812.2,245.6 811.1,242.3 809.1,235.6 806.7,227.8 805.1,224.5 803.1,220.4 801.1,216.7 799.1,214.9 797.1,213.3 795.6,212.2 793.1,211.8 791.1,211.6 789.1,212.2 786.7,213.3 785.1,215.1 783.1,217.7 781.1,220.6 780.0,222.2 779.1,224.2 777.1,229.0 775.1,234.2 773.3,238.9 771.1,246.1 769.1,253.0 766.7,261.1 765.1,265.9 763.1,271.9 761.1,277.8 759.1,283.6" clip-rule="nonzero"/></clipPath>
<polyline points="759.1,205.6 761.1,206.7 763.1,207.9 765.1,209.1 767.1,210.3 769.1,211.6 771.1,212.9 773.3,214.4 775.1,216.1 777.1,218.1 779.1,220.1 781.1,222.2 783.1,224.3 784.4,225.6 787.1,228.5 789.1,230.7 791.1,232.9 793.1,235.1 795.6,237.8 797.1,239.6 799.1,241.9 801.1,244.3 803.1,246.7 805.1,249.1 806.7,251.1 809.1,255.3 811.1,258.8 813.3,262.2 815.1,263.4 817.1,264.7 819.2,265.8 821.1,266.7 823.2,265.3 825.6,263.3 827.2,261.5 829.2,259.0 831.1,256.7 833.2,255.0 835.2,253.4 837.8,251.1 839.2,248.1 841.2,243.0 843.3,237.8 845.2,234.3 847.2,230.6 848.9,228.2 851.2,231.5 853.2,235.2 855.6,240.0 857.2,244.3 859.2,250.1 861.1,255.6 863.2,261.5 865.2,267.2 867.8,275.0 869.2,281.6 871.2,291.7 873.3,301.7 875.2,307.2 877.8,313.9 879.2,315.6 881.2,318.0 883.2,320.1 884.4,321.2 885.2,321.6 887.2,322.5 889.2,323.3 891.1,323.9 893.2,323.1 895.2,322.0 896.7,321.2 899.2,316.6 901.2,312.5 902.2,310.6 903.2,309.1 905.2,306.2 907.2,303.5 908.9,301.7 911.2,303.2 913.2,304.8 914.4,305.7 915.2,306.1 917.2,307.2 920.0,308.3 921.2,307.5 923.2,305.9 925.2,304.1 927.8,301.7 929.2,299.8 931.2,297.0 933.2,294.1 935.6,290.6 937.3,287.4 939.3,283.4 941.1,279.4 943.3,270.4 944.4,265.6 945.3,262.9 947.3,256.8 949.3,250.9 951.1,245.6 953.3,240.5 955.3,235.9 957.8,230.0 959.3,226.3 961.3,221.1 963.3,216.7 965.3,215.7 967.3,214.9 968.9,214.4 971.3,217.3 973.3,220.5 974.4,222.2 975.3,223.9 977.3,227.7 979.3,231.7 981.1,235.6 983.3,243.8 985.6,253.0 987.3,259.3 989.3,266.8 991.3,274.0 992.2,277.2 993.3,280.2 995.3,285.5 997.3,290.8 998.9,295.0 1001.3,301.9 1003.3,307.7 1004.4,310.6 1005.3,312.3 1007.3,316.2 1009.3,319.6 1010.7,321.4 1013.3,318.4 1015.6,315.0 1017.3,309.5 1019.3,302.4 1021.1,296.6 1023.3,292.7 1025.3,289.4 1027.8,285.5 1029.3,283.2 1031.3,280.2 1033.3,277.4 1034.4,275.9 1035.3,275.0 1037.3,273.0 1039.3,271.2 1040.4,270.5 1041.3,270.8 1043.3,271.6 1045.3,272.6 1046.7,273.3 1049.3,278.8 1051.3,283.3 1052.2,285.0 1053.3,286.3 1055.4,288.4 1057.4,290.3 1058.9,291.7 1061.4,293.1 1063.4,294.1 1065.6,295.0 1067.4,294.7 1069.4,294.3 1071.1,293.9 1073.4,291.6 1075.4,289.2 1077.8,286.0 1079.4,282.6 1081.4,278.0 1083.3,273.6 1085.4,269.6 1087.4,265.9 1088.9,263.5 1091.4,262.2 1093.4,261.4 1095.4,260.6 1097.4,259.7 1100.0,258.4 1101.4,256.3 1103.4,252.8 1105.4,249.1 1106.7,246.7 1109.4,240.8 1111.4,236.3 1113.3,232.2 1115.4,228.9 1117.4,225.9 1120.0,222.2 1121.4,220.9 1123.4,219.1 1125.4,217.4 1127.8,215.6 1129.4,215.2 1131.4,214.6 1133.4,214.2 1135.6,213.8 1137.4,214.1 1139.4,214.6 1141.4,215.1 1143.4,215.7 1144.4,216.0 1145.4,216.7 1147.4,218.2 1149.4,219.9 1151.4,221.6 1153.3,223.3 1155.4,226.6 1157.4,229.9 1160.0,234.4 1161.4,237.6 1163.4,242.3 1165.4,247.0 1166.7,250.0 1169.4,256.5 1171.4,261.2 1173.3,265.6 1175.5,270.9 1177.5,275.9 1178.9,279.5 1181.5,285.7 1183.5,290.6 1185.5,295.3 1186.7,298.0 1189.5,301.7 1191.5,304.3 1193.3,306.5 1195.5,308.5 1197.5,310.2 1199.5,311.2 1201.5,312.2 1202.5,312.8 1203.5,313.7 1205.5,315.7 1207.5,317.7 1208.9,319.2 1211.5,322.1 1213.5,324.4 1215.5,326.7 1217.8,329.5 1219.5,332.2 1221.5,335.5 1223.5,338.9 1224.4,340.5 1225.5,342.7 1227.5,346.8 1229.5,350.9 1231.5,355.2" fill="none" stroke="#8A0E06" stroke-width="4.0" stroke-linejoin="round" stroke-linecap="butt"/>
<g clip-path="url(#ribR)"><polyline points="759.1,205.6 761.1,206.7 763.1,207.9 765.1,209.1 767.1,210.3 769.1,211.6 771.1,212.9 773.3,214.4 775.1,216.1 777.1,218.1 779.1,220.1 781.1,222.2 783.1,224.3 784.4,225.6 787.1,228.5 789.1,230.7 791.1,232.9 793.1,235.1 795.6,237.8 797.1,239.6 799.1,241.9 801.1,244.3 803.1,246.7 805.1,249.1 806.7,251.1 809.1,255.3 811.1,258.8 813.3,262.2 815.1,263.4 817.1,264.7 819.2,265.8 821.1,266.7 823.2,265.3 825.6,263.3 827.2,261.5 829.2,259.0 831.1,256.7 833.2,255.0 835.2,253.4 837.8,251.1 839.2,248.1 841.2,243.0 843.3,237.8 845.2,234.3 847.2,230.6 848.9,228.2 851.2,231.5 853.2,235.2 855.6,240.0 857.2,244.3 859.2,250.1 861.1,255.6 863.2,261.5 865.2,267.2 867.8,275.0 869.2,281.6 871.2,291.7 873.3,301.7 875.2,307.2 877.8,313.9 879.2,315.6 881.2,318.0 883.2,320.1 884.4,321.2 885.2,321.6 887.2,322.5 889.2,323.3 891.1,323.9 893.2,323.1 895.2,322.0 896.7,321.2 899.2,316.6 901.2,312.5 902.2,310.6 903.2,309.1 905.2,306.2 907.2,303.5 908.9,301.7 911.2,303.2 913.2,304.8 914.4,305.7 915.2,306.1 917.2,307.2 920.0,308.3 921.2,307.5 923.2,305.9 925.2,304.1 927.8,301.7 929.2,299.8 931.2,297.0 933.2,294.1 935.6,290.6 937.3,287.4 939.3,283.4 941.1,279.4 943.3,270.4 944.4,265.6 945.3,262.9 947.3,256.8 949.3,250.9 951.1,245.6 953.3,240.5 955.3,235.9 957.8,230.0 959.3,226.3 961.3,221.1 963.3,216.7 965.3,215.7 967.3,214.9 968.9,214.4 971.3,217.3 973.3,220.5 974.4,222.2 975.3,223.9 977.3,227.7 979.3,231.7 981.1,235.6 983.3,243.8 985.6,253.0 987.3,259.3 989.3,266.8 991.3,274.0 992.2,277.2 993.3,280.2 995.3,285.5 997.3,290.8 998.9,295.0 1001.3,301.9 1003.3,307.7 1004.4,310.6 1005.3,312.3 1007.3,316.2 1009.3,319.6 1010.7,321.4 1013.3,318.4 1015.6,315.0 1017.3,309.5 1019.3,302.4 1021.1,296.6 1023.3,292.7 1025.3,289.4 1027.8,285.5 1029.3,283.2 1031.3,280.2 1033.3,277.4 1034.4,275.9 1035.3,275.0 1037.3,273.0 1039.3,271.2 1040.4,270.5 1041.3,270.8 1043.3,271.6 1045.3,272.6 1046.7,273.3 1049.3,278.8 1051.3,283.3 1052.2,285.0 1053.3,286.3 1055.4,288.4 1057.4,290.3 1058.9,291.7 1061.4,293.1 1063.4,294.1 1065.6,295.0 1067.4,294.7 1069.4,294.3 1071.1,293.9 1073.4,291.6 1075.4,289.2 1077.8,286.0 1079.4,282.6 1081.4,278.0 1083.3,273.6 1085.4,269.6 1087.4,265.9 1088.9,263.5 1091.4,262.2 1093.4,261.4 1095.4,260.6 1097.4,259.7 1100.0,258.4 1101.4,256.3 1103.4,252.8 1105.4,249.1 1106.7,246.7 1109.4,240.8 1111.4,236.3 1113.3,232.2 1115.4,228.9 1117.4,225.9 1120.0,222.2 1121.4,220.9 1123.4,219.1 1125.4,217.4 1127.8,215.6 1129.4,215.2 1131.4,214.6 1133.4,214.2 1135.6,213.8 1137.4,214.1 1139.4,214.6 1141.4,215.1 1143.4,215.7 1144.4,216.0 1145.4,216.7 1147.4,218.2 1149.4,219.9 1151.4,221.6 1153.3,223.3 1155.4,226.6 1157.4,229.9 1160.0,234.4 1161.4,237.6 1163.4,242.3 1165.4,247.0 1166.7,250.0 1169.4,256.5 1171.4,261.2 1173.3,265.6 1175.5,270.9 1177.5,275.9 1178.9,279.5 1181.5,285.7 1183.5,290.6 1185.5,295.3 1186.7,298.0 1189.5,301.7 1191.5,304.3 1193.3,306.5 1195.5,308.5 1197.5,310.2 1199.5,311.2 1201.5,312.2 1202.5,312.8 1203.5,313.7 1205.5,315.7 1207.5,317.7 1208.9,319.2 1211.5,322.1 1213.5,324.4 1215.5,326.7 1217.8,329.5 1219.5,332.2 1221.5,335.5 1223.5,338.9 1224.4,340.5 1225.5,342.7 1227.5,346.8 1229.5,350.9 1231.5,355.2" fill="none" stroke="#961205" stroke-width="4.0" stroke-linejoin="round" stroke-linecap="butt"/></g>
<polyline points="759.1,283.6 761.1,277.8 763.1,271.9 765.1,265.9 766.7,261.1 769.1,253.0 771.1,246.1 773.3,238.9 775.1,234.2 777.1,229.0 779.1,224.2 780.0,222.2 781.1,220.6 783.1,217.7 785.1,215.1 786.7,213.3 789.1,212.2 791.1,211.6 793.1,211.8 795.6,212.2 797.1,213.3 799.1,214.9 801.1,216.7 803.1,220.4 805.1,224.5 806.7,227.8 809.1,235.6 811.1,242.3 812.2,245.6 813.1,247.9 815.1,252.5 817.8,258.5 819.2,261.6 821.2,266.2 823.3,271.0 825.2,274.0 827.2,277.0 829.2,280.0 831.2,283.0 833.3,286.1 835.2,288.6 837.2,291.3 839.2,293.9 841.2,296.6 843.2,299.1 844.4,300.6 847.2,303.1 849.2,304.8 851.2,306.5 853.3,308.3 855.2,309.9 857.2,311.7 859.2,313.4 861.1,314.6 863.2,314.2 865.2,313.6 867.8,312.8 869.2,311.5 871.2,309.4 873.2,307.3 874.4,306.1 877.2,304.8 879.2,303.9 881.2,303.1 883.2,302.2 884.4,301.7 885.2,301.3 887.2,300.2 889.2,299.0 891.2,297.9 893.2,296.8 895.2,295.7 896.7,295.0 899.2,294.4 901.2,294.0 903.2,293.6 905.2,293.2 906.7,292.8 909.2,291.1 911.2,289.5 913.2,287.8 915.6,285.8 917.2,283.6 919.2,280.7 921.2,277.6 923.2,274.6 924.4,272.8 925.2,271.4 927.2,267.9 929.2,264.4 931.1,261.1 933.2,257.3 935.2,253.8 937.3,250.4 940.0,245.6 941.3,243.6 943.3,240.4 945.3,237.2 947.3,234.0 949.3,230.8 951.1,227.8 953.3,223.9 955.3,220.2 957.8,215.6 959.3,213.0 961.3,209.5 962.2,208.2 963.3,207.8 965.3,207.1 967.3,206.6 968.9,206.2 971.3,209.4 973.3,212.7 974.4,214.4 975.3,215.5 977.3,218.0 979.3,220.4 981.1,222.5 983.3,224.4 985.3,226.1 987.8,228.2 989.3,229.8 991.3,232.0 993.3,234.3 994.4,235.6 995.3,236.9 997.3,240.0 1000.0,244.4 1001.3,247.1 1003.3,251.4 1005.6,256.5 1007.3,261.6 1009.3,267.8 1011.1,273.5 1013.3,282.9 1015.3,291.7 1016.7,297.8 1019.3,310.2 1021.3,319.7 1023.3,329.0 1025.3,337.7 1027.3,346.1 1030.0,357.5 1031.3,363.7 1033.3,373.1 1034.4,377.8 1035.3,380.8 1037.3,387.1 1039.3,392.7 1040.4,395.0 1041.3,394.0 1043.3,391.5 1045.3,388.4 1046.7,386.1 1049.3,370.6 1052.0,353.9 1053.3,348.6 1055.4,341.2 1058.0,331.7 1059.4,327.3 1061.4,320.9 1063.4,314.6 1064.3,311.7 1065.4,308.7 1067.4,303.0 1070.0,296.1 1071.4,294.3 1073.4,291.9 1076.0,289.4 1077.4,291.4 1079.4,295.2 1081.1,298.3 1083.4,300.8 1085.4,302.9 1087.8,305.0 1089.4,305.4 1091.4,305.8 1093.3,306.1 1095.4,305.0 1097.4,303.7 1100.0,301.7 1101.4,297.5 1103.4,290.3 1104.4,286.5 1105.4,281.4 1107.4,270.5 1109.4,259.3 1111.1,250.0 1113.4,238.5 1115.4,228.6 1117.8,216.7 1119.4,208.8 1121.4,198.9 1123.3,190.0 1125.4,183.0 1127.4,176.5 1129.4,170.9 1130.7,168.0 1133.4,169.4 1135.4,170.7 1136.7,171.7 1139.4,183.2 1142.2,196.7 1143.4,202.4 1145.4,211.8 1147.8,223.3 1149.4,233.2 1151.4,245.7 1153.3,258.0 1155.4,277.8 1156.7,289.4 1160.0,311.7 1161.4,317.3 1163.4,324.4 1165.6,331.7 1167.4,336.5 1169.4,341.5 1171.8,346.1 1173.5,345.1 1175.5,343.5 1177.5,341.6 1178.4,340.6 1179.5,336.9 1181.5,328.5 1183.3,320.6 1185.5,311.9 1187.5,304.0 1188.9,298.3 1191.5,289.0 1193.5,281.7 1194.4,278.3 1195.5,274.1 1197.5,266.3 1199.5,258.4 1202.2,247.8 1203.5,243.4 1205.5,236.5 1207.5,229.7 1209.5,222.9 1211.5,216.1 1213.3,210.0 1215.5,202.7 1217.5,196.1 1219.5,189.5 1221.5,182.9 1223.5,176.3 1224.4,173.3 1225.5,169.8 1227.5,163.5 1229.5,157.2 1231.5,150.9" fill="none" stroke="#FF180A" stroke-width="4.7" stroke-linejoin="round" stroke-linecap="butt"/>
<polygon points="759.1,205.6 761.1,206.7 763.1,207.9 765.1,209.1 767.1,210.3 769.1,211.6 771.1,212.9 773.3,214.4 775.1,216.1 777.1,218.1 779.1,220.1 781.1,222.2 783.1,224.3 784.4,225.6 787.1,228.5 789.1,230.7 791.1,232.9 793.1,235.1 795.6,237.8 797.1,239.6 799.1,241.9 801.1,244.3 803.1,246.7 805.1,249.1 806.7,251.1 809.1,255.3 811.1,258.8 813.3,262.2 815.1,263.4 817.1,264.7 819.2,265.8 821.1,266.7 823.2,265.3 825.6,263.3 827.2,261.5 829.2,259.0 831.1,256.7 833.2,255.0 835.2,253.4 837.8,251.1 839.2,248.1 841.2,243.0 843.3,237.8 845.2,234.3 847.2,230.6 848.9,228.2 851.2,231.5 853.2,235.2 855.6,240.0 857.2,244.3 859.2,250.1 861.1,255.6 863.2,261.5 865.2,267.2 867.8,275.0 869.2,281.6 871.2,291.7 873.3,301.7 875.2,307.2 877.8,313.9 879.2,315.6 881.2,318.0 883.2,320.1 884.4,321.2 885.2,321.6 887.2,322.5 889.2,323.3 891.1,323.9 893.2,323.1 895.2,322.0 896.7,321.2 899.2,316.6 901.2,312.5 902.2,310.6 903.2,309.1 905.2,306.2 907.2,303.5 908.9,301.7 911.2,303.2 913.2,304.8 914.4,305.7 915.2,306.1 917.2,307.2 920.0,308.3 921.2,307.5 923.2,305.9 925.2,304.1 927.8,301.7 929.2,299.8 931.2,297.0 933.2,294.1 935.6,290.6 937.3,287.4 939.3,283.4 941.1,279.4 943.3,270.4 944.4,265.6 945.3,262.9 947.3,256.8 949.3,250.9 951.1,245.6 953.3,240.5 955.3,235.9 957.8,230.0 959.3,226.3 961.3,221.1 963.3,216.7 965.3,215.7 967.3,214.9 968.9,214.4 971.3,217.3 973.3,220.5 974.4,222.2 975.3,223.9 977.3,227.7 979.3,231.7 981.1,235.6 983.3,243.8 985.6,253.0 987.3,259.3 989.3,266.8 991.3,274.0 992.2,277.2 993.3,280.2 995.3,285.5 997.3,290.8 998.9,295.0 1001.3,301.9 1003.3,307.7 1004.4,310.6 1005.3,312.3 1007.3,316.2 1009.3,319.6 1010.7,321.4 1013.3,318.4 1015.6,315.0 1017.3,309.5 1019.3,302.4 1021.1,296.6 1023.3,292.7 1025.3,289.4 1027.8,285.5 1029.3,283.2 1031.3,280.2 1033.3,277.4 1034.4,275.9 1035.3,275.0 1037.3,273.0 1039.3,271.2 1040.4,270.5 1041.3,270.8 1043.3,271.6 1045.3,272.6 1046.7,273.3 1049.3,278.8 1051.3,283.3 1052.2,285.0 1053.3,286.3 1055.4,288.4 1057.4,290.3 1058.9,291.7 1061.4,293.1 1063.4,294.1 1065.6,295.0 1067.4,294.7 1069.4,294.3 1071.1,293.9 1073.4,291.6 1075.4,289.2 1077.8,286.0 1079.4,282.6 1081.4,278.0 1083.3,273.6 1085.4,269.6 1087.4,265.9 1088.9,263.5 1091.4,262.2 1093.4,261.4 1095.4,260.6 1097.4,259.7 1100.0,258.4 1101.4,256.3 1103.4,252.8 1105.4,249.1 1106.7,246.7 1109.4,240.8 1111.4,236.3 1113.3,232.2 1115.4,228.9 1117.4,225.9 1120.0,222.2 1121.4,220.9 1123.4,219.1 1125.4,217.4 1127.8,215.6 1129.4,215.2 1131.4,214.6 1133.4,214.2 1135.6,213.8 1137.4,214.1 1139.4,214.6 1141.4,215.1 1143.4,215.7 1144.4,216.0 1145.4,216.7 1147.4,218.2 1149.4,219.9 1151.4,221.6 1153.3,223.3 1155.4,226.6 1157.4,229.9 1160.0,234.4 1161.4,237.6 1163.4,242.3 1165.4,247.0 1166.7,250.0 1169.4,256.5 1171.4,261.2 1173.3,265.6 1175.5,270.9 1177.5,275.9 1178.9,279.5 1181.5,285.7 1183.5,290.6 1185.5,295.3 1186.7,298.0 1189.5,301.7 1191.5,304.3 1193.3,306.5 1195.5,308.5 1197.5,310.2 1199.5,311.2 1201.5,312.2 1202.5,312.8 1203.5,313.7 1205.5,315.7 1207.5,317.7 1208.9,319.2 1211.5,322.1 1213.5,324.4 1215.5,326.7 1217.8,329.5 1219.5,332.2 1221.5,335.5 1223.5,338.9 1224.4,340.5 1225.5,342.7 1227.5,346.8 1229.5,350.9 1231.5,355.2 1231.5,150.9 1229.5,157.2 1227.5,163.5 1225.5,169.8 1224.4,173.3 1223.5,176.3 1221.5,182.9 1219.5,189.5 1217.5,196.1 1215.5,202.7 1213.3,210.0 1211.5,216.1 1209.5,222.9 1207.5,229.7 1205.5,236.5 1203.5,243.4 1202.2,247.8 1199.5,258.4 1197.5,266.3 1195.5,274.1 1194.4,278.3 1193.5,281.7 1191.5,289.0 1188.9,298.3 1187.5,304.0 1185.5,311.9 1183.3,320.6 1181.5,328.5 1179.5,336.9 1178.4,340.6 1177.5,341.6 1175.5,343.5 1173.5,345.1 1171.8,346.1 1169.4,341.5 1167.4,336.5 1165.6,331.7 1163.4,324.4 1161.4,317.3 1160.0,311.7 1156.7,289.4 1155.4,277.8 1153.3,258.0 1151.4,245.7 1149.4,233.2 1147.8,223.3 1145.4,211.8 1143.4,202.4 1142.2,196.7 1139.4,183.2 1136.7,171.7 1135.4,170.7 1133.4,169.4 1130.7,168.0 1129.4,170.9 1127.4,176.5 1125.4,183.0 1123.3,190.0 1121.4,198.9 1119.4,208.8 1117.8,216.7 1115.4,228.6 1113.4,238.5 1111.1,250.0 1109.4,259.3 1107.4,270.5 1105.4,281.4 1104.4,286.5 1103.4,290.3 1101.4,297.5 1100.0,301.7 1097.4,303.7 1095.4,305.0 1093.3,306.1 1091.4,305.8 1089.4,305.4 1087.8,305.0 1085.4,302.9 1083.4,300.8 1081.1,298.3 1079.4,295.2 1077.4,291.4 1076.0,289.4 1073.4,291.9 1071.4,294.3 1070.0,296.1 1067.4,303.0 1065.4,308.7 1064.3,311.7 1063.4,314.6 1061.4,320.9 1059.4,327.3 1058.0,331.7 1055.4,341.2 1053.3,348.6 1052.0,353.9 1049.3,370.6 1046.7,386.1 1045.3,388.4 1043.3,391.5 1041.3,394.0 1040.4,395.0 1039.3,392.7 1037.3,387.1 1035.3,380.8 1034.4,377.8 1033.3,373.1 1031.3,363.7 1030.0,357.5 1027.3,346.1 1025.3,337.7 1023.3,329.0 1021.3,319.7 1019.3,310.2 1016.7,297.8 1015.3,291.7 1013.3,282.9 1011.1,273.5 1009.3,267.8 1007.3,261.6 1005.6,256.5 1003.3,251.4 1001.3,247.1 1000.0,244.4 997.3,240.0 995.3,236.9 994.4,235.6 993.3,234.3 991.3,232.0 989.3,229.8 987.8,228.2 985.3,226.1 983.3,224.4 981.1,222.5 979.3,220.4 977.3,218.0 975.3,215.5 974.4,214.4 973.3,212.7 971.3,209.4 968.9,206.2 967.3,206.6 965.3,207.1 963.3,207.8 962.2,208.2 961.3,209.5 959.3,213.0 957.8,215.6 955.3,220.2 953.3,223.9 951.1,227.8 949.3,230.8 947.3,234.0 945.3,237.2 943.3,240.4 941.3,243.6 940.0,245.6 937.3,250.4 935.2,253.8 933.2,257.3 931.1,261.1 929.2,264.4 927.2,267.9 925.2,271.4 924.4,272.8 923.2,274.6 921.2,277.6 919.2,280.7 917.2,283.6 915.6,285.8 913.2,287.8 911.2,289.5 909.2,291.1 906.7,292.8 905.2,293.2 903.2,293.6 901.2,294.0 899.2,294.4 896.7,295.0 895.2,295.7 893.2,296.8 891.2,297.9 889.2,299.0 887.2,300.2 885.2,301.3 884.4,301.7 883.2,302.2 881.2,303.1 879.2,303.9 877.2,304.8 874.4,306.1 873.2,307.3 871.2,309.4 869.2,311.5 867.8,312.8 865.2,313.6 863.2,314.2 861.1,314.6 859.2,313.4 857.2,311.7 855.2,309.9 853.3,308.3 851.2,306.5 849.2,304.8 847.2,303.1 844.4,300.6 843.2,299.1 841.2,296.6 839.2,293.9 837.2,291.3 835.2,288.6 833.3,286.1 831.2,283.0 829.2,280.0 827.2,277.0 825.2,274.0 823.3,271.0 821.2,266.2 819.2,261.6 817.8,258.5 815.1,252.5 813.1,247.9 812.2,245.6 811.1,242.3 809.1,235.6 806.7,227.8 805.1,224.5 803.1,220.4 801.1,216.7 799.1,214.9 797.1,213.3 795.6,212.2 793.1,211.8 791.1,211.6 789.1,212.2 786.7,213.3 785.1,215.1 783.1,217.7 781.1,220.6 780.0,222.2 779.1,224.2 777.1,229.0 775.1,234.2 773.3,238.9 771.1,246.1 769.1,253.0 766.7,261.1 765.1,265.9 763.1,271.9 761.1,277.8 759.1,283.6" fill="rgba(215,25,60,0.235)" stroke="none" fill-rule="nonzero"/>
<path d="M736.0,59.3V450.1H1255.6V59.3" fill="none" stroke="#000" stroke-width="1.9" stroke-linecap="butt" stroke-linejoin="miter"/>
<line x1="1255.6" y1="105.2" x2="1261.1999999999998" y2="105.2" stroke="#000" stroke-width="1.9"/>
<text class="tick" x="1264.5" y="117.1" text-anchor="start">2</text>
<line x1="1255.6" y1="176.3" x2="1261.1999999999998" y2="176.3" stroke="#000" stroke-width="1.9"/>
<text class="tick" x="1264.5" y="188.2" text-anchor="start">1</text>
<line x1="1255.6" y1="247.4" x2="1261.1999999999998" y2="247.4" stroke="#000" stroke-width="1.9"/>
<text class="tick" x="1264.5" y="259.3" text-anchor="start">0</text>
<line x1="1255.6" y1="318.5" x2="1261.1999999999998" y2="318.5" stroke="#000" stroke-width="1.9"/>
<text class="tick" x="1264.5" y="330.4" text-anchor="start">-1</text>
<line x1="1255.6" y1="389.6" x2="1261.1999999999998" y2="389.6" stroke="#000" stroke-width="1.9"/>
<text class="tick" x="1264.5" y="401.5" text-anchor="start">-2</text>
<line x1="759.1" y1="450.1" x2="759.1" y2="455.70000000000005" stroke="#000" stroke-width="1.9"/>
<text class="tick" x="758.7" y="484.4" text-anchor="middle">0</text>
<line x1="871.6" y1="450.1" x2="871.6" y2="455.70000000000005" stroke="#000" stroke-width="1.9"/>
<text class="tick" x="871.2" y="484.4" text-anchor="middle">25</text>
<line x1="984.2" y1="450.1" x2="984.2" y2="455.70000000000005" stroke="#000" stroke-width="1.9"/>
<text class="tick" x="983.8" y="484.4" text-anchor="middle">50</text>
<line x1="1096.7" y1="450.1" x2="1096.7" y2="455.70000000000005" stroke="#000" stroke-width="1.9"/>
<text class="tick" x="1096.3" y="484.4" text-anchor="middle">75</text>
<line x1="1209.0" y1="450.1" x2="1209.0" y2="455.70000000000005" stroke="#000" stroke-width="1.9"/>
<text class="tick" x="1208.6" y="484.4" text-anchor="middle">100</text>
<text class="title" x="995.6" y="37.4" text-anchor="middle">Example Friend Dyad</text>
<text class="axt" x="995.8" y="525.4" text-anchor="middle">Time Points (TR)</text>
<text class="axt" style="font-size:40.8px" transform="translate(1317.2,254.4) rotate(90)" text-anchor="middle">Distance btw Partners</text>
<line x1="748.1" y1="587.9" x2="776.4" y2="587.9" stroke="#EE8921" stroke-width="4.4"/>
<text class="leg" x="790.6" y="600" text-anchor="start">Distance</text>
<line x1="933.4" y1="587.9" x2="961.7" y2="587.9" stroke="#8A0E06" stroke-width="4.4"/>
<text class="leg" x="976.2" y="600" text-anchor="start">Friend1</text>
<line x1="1102.9" y1="587.9" x2="1131.0" y2="587.9" stroke="#FF180A" stroke-width="4.4"/>
<text class="leg" x="1145.5" y="600" text-anchor="start">Friend2</text>
</g>
</svg></body></html>
